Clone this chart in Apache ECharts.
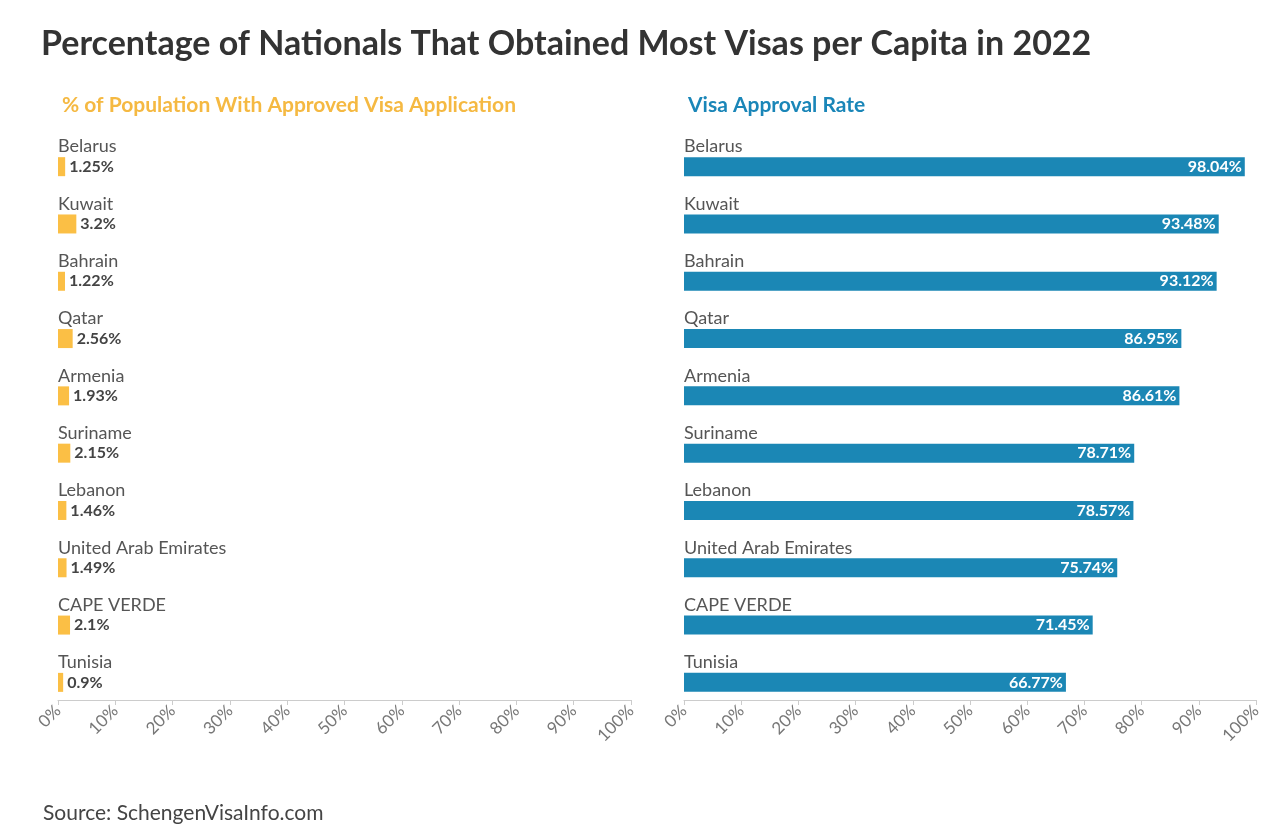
<!DOCTYPE html>
<html>
<head>
<meta charset="UTF-8">
<script src="https://cdn.jsdelivr.net/npm/echarts@6/dist/echarts.min.js"></script>
<style>body{margin:0;background:#fff}</style>
</head>
<body>
<div id="main" style="width:1280px;height:830px;"></div>
<script>
var countries = ['Belarus','Kuwait','Bahrain','Qatar','Armenia','Suriname','Lebanon','United Arab Emirates','CAPE VERDE','Tunisia'];
var popShare = [1.25,3.2,1.22,2.56,1.93,2.15,1.46,1.49,2.1,0.9];
var approvalRate = [98.04,93.48,93.12,86.95,86.61,78.71,78.57,75.74,71.45,66.77];
var zeros = countries.map(function(){return 0;});

var FONT = 'Lato';
var chart = echarts.init(document.getElementById('main'));

function xAx(idx){
    return {gridIndex: idx, type:'value', min:0, max:100, interval:10,
        splitLine:{show:false},
        axisLine:{show:true, lineStyle:{color:'#ccc'}},
        axisTick:{show:true, length:5, lineStyle:{color:'#ccc'}},
        axisLabel:{rotate:45, color:'#777', fontSize:17, fontFamily:FONT, formatter:'{value}%', margin:8}};
}
function yAx(idx){
    return {gridIndex: idx, type:'category', data:countries, inverse:true,
        axisLine:{show:false}, axisTick:{show:false},
        axisLabel:{inside:true, margin:0, align:'left', verticalAlign:'bottom', color:'#555', fontSize:18, fontFamily:FONT}};
}

chart.setOption({
    animation:false,
    title:[
        {text:'Percentage of Nationals That Obtained Most Visas per Capita in 2022', left:36, top:22,
         textStyle:{fontSize:34, fontWeight:'bold', color:'#333', fontFamily:FONT}},
        {text:'% of Population With Approved Visa Application', left:57, top:90,
         textStyle:{fontSize:21, fontWeight:'bold', color:'#f5b942', fontFamily:FONT}},
        {text:'Visa Approval Rate', left:683, top:90,
         textStyle:{fontSize:21, fontWeight:'bold', color:'#1a86b8', fontFamily:FONT}},
        {text:'Source: SchengenVisaInfo.com', left:38, top:798,
         textStyle:{fontSize:21, fontWeight:'normal', color:'#444', fontFamily:FONT}}
    ],
    grid:[
        {left:58, right:649, top:127, bottom:130},
        {left:684, right:24, top:127, bottom:130}
    ],
    xAxis:[xAx(0), xAx(1)],
    yAxis:[yAx(0), yAx(1)],
    series:[
        {type:'bar', xAxisIndex:0, yAxisIndex:0, data:zeros, barWidth:19, barGap:'16%', silent:true},
        {type:'bar', xAxisIndex:0, yAxisIndex:0, data:popShare, barWidth:19,
         itemStyle:{color:'#fbbf45'},
         label:{show:true, position:'right', distance:4, color:'#444', fontWeight:'bold', fontSize:16, fontFamily:FONT, formatter:'{c}%'}},
        {type:'bar', xAxisIndex:1, yAxisIndex:1, data:zeros, barWidth:19, barGap:'16%', silent:true},
        {type:'bar', xAxisIndex:1, yAxisIndex:1, data:approvalRate, barWidth:19,
         itemStyle:{color:'#1b87b5'},
         label:{show:true, position:'insideRight', distance:3, color:'#fff', fontWeight:'bold', fontSize:16, fontFamily:FONT, formatter:'{c}%'}}
    ]
});
</script>
</body>
</html>
